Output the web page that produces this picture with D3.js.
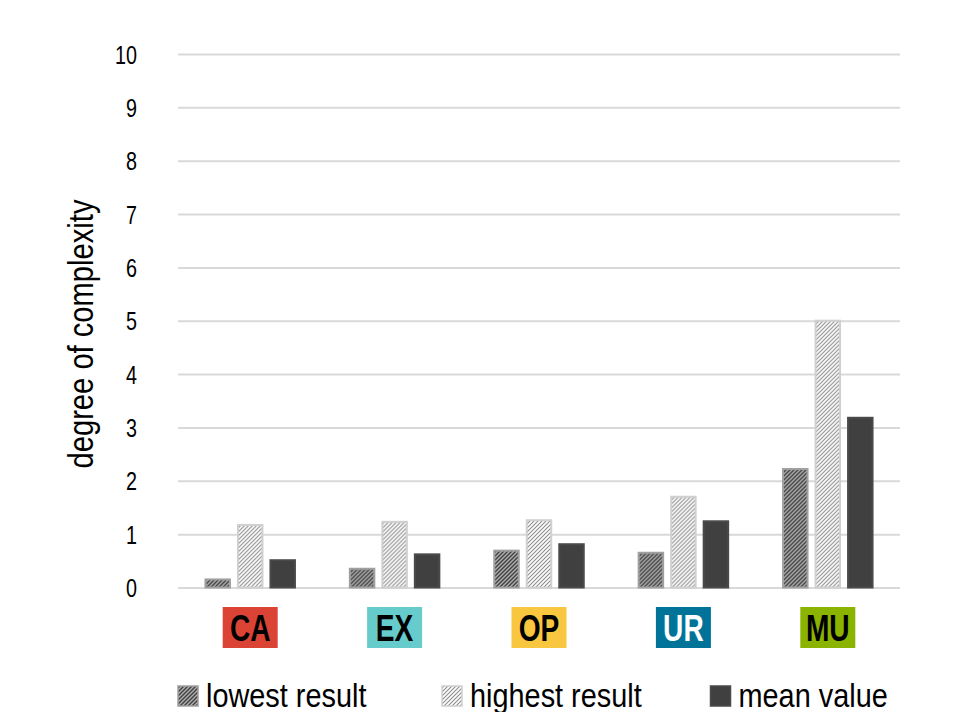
<!DOCTYPE html>
<html>
<head>
<meta charset="utf-8">
<script src="https://cdn.jsdelivr.net/npm/d3@7"></script>
<style>
  html, body { margin: 0; padding: 0; background: #fff; }
  svg { display: block; }
  text { font-family: "Liberation Sans", Arial, sans-serif; }
</style>
</head>
<body>
<svg id="chart" width="967" height="712"></svg>
<script>
// Categories and their badge colours
const categories = ["CA", "EX", "OP", "UR", "MU"];
const categoryColors = ["#db4435", "#66cccb", "#f9c640", "#007398", "#8bb400"];
const categoryTextColors = ["#000", "#000", "#000", "#fff", "#000"];

// Series
const seriesNames = ["lowest result", "highest result", "mean value"];
const lowest  = [0.17, 0.37, 0.71, 0.67, 2.24];
const highest = [1.19, 1.25, 1.28, 1.72, 5.02];
const mean    = [0.53, 0.64, 0.83, 1.26, 3.20];

// Axis
const yTicks = [0, 1, 2, 3, 4, 5, 6, 7, 8, 9, 10];
const yTitle = "degree of complexity";

const svg = d3.select("#chart");

// Plot area
const plot = { left: 178, right: 900, top: 54, bottom: 587.5 };

const x = d3.scaleBand().domain(categories).range([plot.left, plot.right]).padding(0);
const y = d3.scaleLinear().domain([0, 10]).range([plot.bottom, plot.top]);
const x1 = d3.scaleBand().domain(seriesNames).range([-45.75, 45.75]).paddingInner(0.185).paddingOuter(0);

// Hatch patterns
const defs = svg.append("defs");
function hatch(id, bg, line, lw) {
  const p = defs.append("pattern")
    .attr("id", id).attr("patternUnits", "userSpaceOnUse")
    .attr("width", 4).attr("height", 4);
  p.append("rect").attr("width", 4).attr("height", 4).attr("fill", bg);
  p.append("path").attr("d", "M-1,1 l2,-2 M0,4 l4,-4 M3,5 l2,-2")
    .attr("stroke", line).attr("stroke-width", lw);
}
hatch("hatchLow", "#b0b0b0", "#3f3f3f", 1.4);
hatch("hatchHigh", "#ffffff", "#8c8c8c", 1.1);

const styles = [
  { fill: "url(#hatchLow)", stroke: "#a0a0a0" },
  { fill: "url(#hatchHigh)", stroke: "#d0d0d0" },
  { fill: "#404040", stroke: "#4a4a4a" }
];

// Gridlines and tick labels (condensed lettering)
const yAxis = d3.axisLeft(y).tickValues(yTicks).tickSize(-(plot.right - plot.left)).tickPadding(0).tickFormat(d3.format("d"));
const gy = svg.append("g").attr("transform", `translate(${plot.left},0)`).call(yAxis);
gy.select(".domain").remove();
gy.selectAll(".tick line").attr("stroke", "#d9d9d9").attr("stroke-width", 2);
gy.selectAll(".tick text")
  .attr("x", 0).attr("dy", "0.35em")
  .attr("transform", "translate(-41,0) scale(0.76,1)")
  .attr("font-family", "Liberation Sans, Arial, sans-serif")
  .attr("font-size", 26).attr("fill", "#000");

// Bars
const data = categories.map((c, i) => ({ cat: c, vals: [lowest[i], highest[i], mean[i]] }));
const groups = svg.append("g").selectAll("g").data(data).join("g")
  .attr("transform", d => `translate(${x(d.cat) + x.bandwidth() / 2},0)`);
groups.selectAll("rect").data(d => d.vals.map((v, k) => ({ v, k })))
  .join("rect")
  .attr("x", d => x1(seriesNames[d.k]) + 1)
  .attr("width", x1.bandwidth() - 2)
  .attr("y", d => y(d.v) + 1)
  .attr("height", d => Math.max(0, y(0) - y(d.v) - 1))
  .attr("fill", d => styles[d.k].fill)
  .attr("stroke", d => styles[d.k].stroke)
  .attr("stroke-width", 2);

// Category badges
const badges = svg.append("g").selectAll("g").data(categories).join("g")
  .attr("transform", d => `translate(${x(d) + x.bandwidth() / 2},0)`);
badges.append("rect")
  .attr("x", -27.5).attr("y", 607).attr("width", 55).attr("height", 41)
  .attr("fill", (d, i) => categoryColors[i]);
badges.append("text")
  .attr("transform", "translate(0,640.5) scale(0.76,1)")
  .attr("text-anchor", "middle")
  .attr("font-weight", "bold").attr("font-size", 37)
  .attr("fill", (d, i) => categoryTextColors[i])
  .text(d => d);

// Y axis title (condensed along its length)
svg.append("text")
  .attr("transform", "translate(93,334) rotate(-90) scale(0.81,1)")
  .attr("text-anchor", "middle")
  .attr("font-size", 36)
  .attr("fill", "#000")
  .text(yTitle);

// Legend
const legendX = [177, 441, 709.5];
const legend = svg.append("g").selectAll("g").data(seriesNames).join("g")
  .attr("transform", (d, i) => `translate(${legendX[i]},685)`);
legend.append("rect")
  .attr("x", 1).attr("y", 1).attr("width", 20).attr("height", 20)
  .attr("fill", (d, i) => styles[i].fill)
  .attr("stroke", (d, i) => styles[i].stroke)
  .attr("stroke-width", 1.5);
legend.append("text")
  .attr("transform", "translate(29,21.5) scale(0.875,1)")
  .attr("font-size", 33)
  .attr("fill", "#000")
  .text(d => d);
</script>
</body>
</html>
